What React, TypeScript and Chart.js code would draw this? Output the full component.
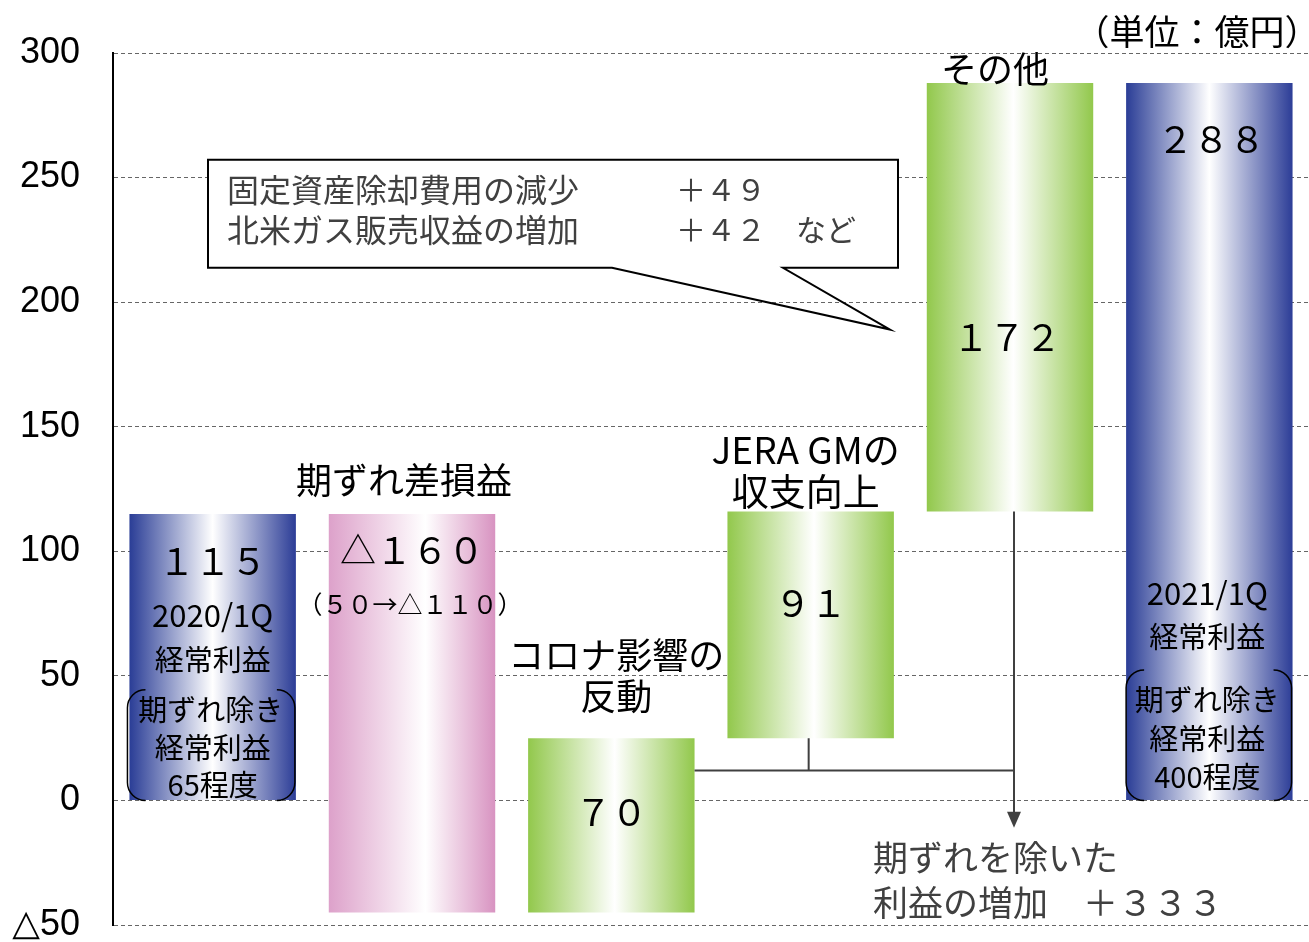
import React, { useEffect, useRef } from "react";
import { Chart, registerables } from "chart.js";
Chart.register(...registerables);

const categories = ["2020/1Q経常利益", "期ずれ差損益", "コロナ影響の反動", "JERA GMの収支向上", "その他", "2021/1Q経常利益"];
const barStarts = [0, -45, -45, 25, 116, 0];
const barEnds = [115, 115, 25, 116, 288, 288];
const valueLabels = ["１１５", "△１６０", "７０", "９１", "１７２", "２８８"];
const barKinds = ["blue", "pink", "green", "green", "green", "blue"];
const yMin = -50;
const yMax = 300;
const yStep = 50;

const gradientStops: Record<string, [number, string][]> = {
  blue: [[0, "#2A3D96"], [0.5, "#FFFFFF"], [1, "#2C3D97"]],
  pink: [[0, "#DDA1CA"], [0.58, "#FFFFFF"], [1, "#D893C1"]],
  green: [[0, "#92C84C"], [0.52, "#FFFFFF"], [1, "#92C84C"]],
};

const JP = '"Noto Sans CJK JP", "Noto Sans", sans-serif';
const BAR_PCT = 0.835;

function bracketBox(ctx: CanvasRenderingContext2D, x1: number, y1: number, x2: number, y2: number, r: number) {
  ctx.beginPath();
  ctx.moveTo(x1 + r, y1);
  ctx.arcTo(x1, y1, x1, y1 + r, r);
  ctx.lineTo(x1, y2 - r);
  ctx.arcTo(x1, y2, x1 + r, y2, r);
  ctx.moveTo(x2 - r, y1);
  ctx.arcTo(x2, y1, x2, y1 + r, r);
  ctx.lineTo(x2, y2 - r);
  ctx.arcTo(x2, y2, x2 - r, y2, r);
  ctx.stroke();
}

const annotationPlugin = {
  id: "annotations",
  afterDatasetsDraw(chart: any) {
    const ctx: CanvasRenderingContext2D = chart.ctx;
    const xs = chart.scales.x;
    const ys = chart.scales.y;
    const px = (i: number) => xs.getPixelForValue(i);
    const py = (v: number) => ys.getPixelForValue(v);
    const bw = (xs.width / categories.length) * BAR_PCT;

    ctx.save();
    // connector lines
    ctx.strokeStyle = "#404040";
    ctx.lineWidth = 2;
    ctx.beginPath();
    ctx.moveTo(px(2) + bw / 2, py(12));
    ctx.lineTo(px(4) + 4, py(12));
    ctx.moveTo(px(3) - 2, py(barStarts[3]));
    ctx.lineTo(px(3) - 2, py(12));
    ctx.moveTo(px(4) + 4, py(barStarts[4]));
    ctx.lineTo(px(4) + 4, py(-5));
    ctx.stroke();
    ctx.fillStyle = "#404040";
    ctx.beginPath();
    ctx.moveTo(px(4) + 4 - 7, py(-4.5));
    ctx.lineTo(px(4) + 4 + 7, py(-4.5));
    ctx.lineTo(px(4) + 4, py(-11));
    ctx.closePath();
    ctx.fill();

    // callout
    const bx1 = 208, bx2 = 898;
    const by1 = py(257.2), by2 = py(213.8);
    ctx.fillStyle = "#FFFFFF";
    ctx.fillRect(bx1, by1, bx2 - bx1, by2 - by1);
    ctx.strokeStyle = "#000000";
    ctx.lineWidth = 2;
    ctx.beginPath();
    ctx.moveTo(612, by2);
    ctx.lineTo(bx1, by2);
    ctx.lineTo(bx1, by1);
    ctx.lineTo(bx2, by1);
    ctx.lineTo(bx2, by2);
    ctx.lineTo(783, by2);
    ctx.lineTo(890, py(189));
    ctx.closePath();
    ctx.stroke();

    const text = (s: string, x: number, y: number, size: number, align: CanvasTextAlign = "center", color = "#000000") => {
      ctx.font = `${size}px ${JP}`;
      ctx.fillStyle = color;
      ctx.textAlign = align;
      ctx.textBaseline = "middle";
      ctx.fillText(s, x, y);
    };

    text("固定資産除却費用の減少", 227, py(245.2), 32, "left", "#404040");
    text("＋４９", 676, py(245.2), 30, "left", "#404040");
    text("北米ガス販売収益の増加", 227, py(229.2), 32, "left", "#404040");
    text("＋４２　など", 676, py(229.2), 30, "left", "#404040");

    // bar 1
    text(valueLabels[0], px(0), py(95.8), 36);
    text("2020/1Q", px(0), py(74.5), 31);
    text("経常利益", px(0), py(56.4), 29);
    text("期ずれ除き", px(0) - 2, py(36.3), 29);
    text("経常利益", px(0), py(21.1), 29);
    text("65程度", px(0), py(6.2), 29);
    ctx.strokeStyle = "#000000";
    ctx.lineWidth = 1.5;
    bracketBox(ctx, px(0) - bw / 2 - 2, py(44.4), px(0) + bw / 2 - 1, py(0), 18);

    // bar 2
    text("期ずれ差損益", px(1) - 8, py(128.3), 36);
    text(valueLabels[1], px(1), py(100.2), 36);
    text("（５０→△１１０）", px(1) - 2, py(78.5), 25);

    // bar 3
    text("コロナ影響の", px(2) + 5, py(58.4), 36);
    text("反動", px(2) + 5, py(41.6), 36);
    text(valueLabels[2], px(2), py(-4.6), 36);

    // bar 4
    text("JERA GMの", px(3) - 5, py(140.8), 37);
    text("収支向上", px(3) - 5, py(123.9), 37);
    text(valueLabels[3], px(3), py(79.3), 36);

    // bar 5
    text("その他", px(4) - 15, py(293.4), 36);
    text(valueLabels[4], px(4) - 3, py(185.7), 36);

    // bar 6
    text(valueLabels[5], px(5) + 2, py(265.3), 36);
    text("2021/1Q", px(5) - 2, py(83.3), 31);
    text("経常利益", px(5) - 2, py(65.7), 29);
    text("期ずれ除き", px(5) - 2, py(40.4), 29);
    text("経常利益", px(5) - 2, py(24.7), 29);
    text("400程度", px(5) - 2, py(9.4), 29);
    ctx.strokeStyle = "#000000";
    ctx.lineWidth = 1.5;
    bracketBox(ctx, px(5) - bw / 2, py(52.4), px(5) + bw / 2 - 1, py(0), 18);

    // bottom note
    text("期ずれを除いた", px(4) - 137, py(-23.1), 35, "left", "#404040");
    text("利益の増加　＋３３３", px(4) - 137, py(-41.2), 35, "left", "#404040");

    // unit
    text("（単位：億円）", 1197, 32, 35, "center", "#000000");
    ctx.restore();
  },
};

export default function App() {
  const canvasRef = useRef<HTMLCanvasElement | null>(null);

  useEffect(() => {
    document.body.style.margin = "0";
    const canvas = canvasRef.current!;
    const chart = new Chart(canvas, {
      type: "bar",
      data: {
        labels: categories,
        datasets: [
          {
            data: barStarts.map((s, i) => [s, barEnds[i]]) as any,
            backgroundColor: (c: any) => {
              const ch = c.chart;
              const i = c.dataIndex;
              const stops = gradientStops[barKinds[i] ?? "green"];
              if (!ch.chartArea || i === undefined || !ch.scales.x) return stops[0][1];
              const xs = ch.scales.x;
              const cx = xs.getPixelForValue(i);
              const w = (xs.width / categories.length) * BAR_PCT;
              const g = ch.ctx.createLinearGradient(cx - w / 2, 0, cx + w / 2, 0);
              stops.forEach(([o, col]) => g.addColorStop(o, col));
              return g;
            },
            borderWidth: 0,
            barPercentage: BAR_PCT,
            categoryPercentage: 1,
          },
        ],
      },
      options: {
        responsive: false,
        animation: false,
        layout: { padding: { top: 53, bottom: 17, right: 0, left: 0 } },
        plugins: { legend: { display: false }, tooltip: { enabled: false } },
        scales: {
          x: { display: false, offset: true, grid: { display: false } },
          y: {
            min: yMin,
            max: yMax,
            afterFit: (s: any) => {
              s.width = 113;
            },
            ticks: {
              stepSize: yStep,
              padding: 0,
              color: "#000000",
              font: { family: '"Liberation Sans", Arial, "DejaVu Sans", sans-serif', size: 36, lineHeight: 0.3 },
              callback: (v: any) => (Number(v) < 0 ? "△" + Math.abs(Number(v)) : String(v)),
            },
            grid: { color: "#666666", lineWidth: 1, drawTicks: true, tickLength: 33, tickColor: "rgba(0,0,0,0)" },
            border: { display: true, color: "#000000", width: 2, dash: [4, 3] },
          },
        },
      },
      plugins: [annotationPlugin],
    });
    return () => chart.destroy();
  }, []);

  return (
    <div style={{ width: 1309, height: 942, position: "relative" }}>
      <canvas ref={canvasRef} width={1309} height={942} />
    </div>
  );
}
